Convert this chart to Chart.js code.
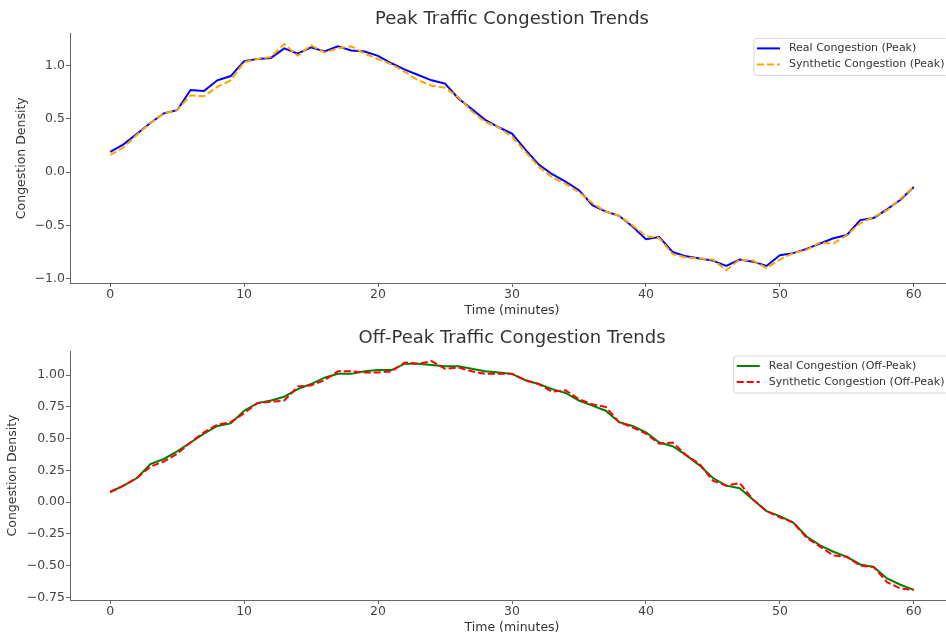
<html>

<head>
  <meta charset="utf-8">
  <style>
    html,
    body {
      margin: 0;
      padding: 0;
      background: #fff;
      overflow: hidden;
    }

    canvas {
      position: absolute;
      left: 0;
    }

    #peak {
      top: 0;
    }

    #offpeak {
      top: 320px;
    }
  </style>
</head>

<body>
  <canvas id="peak" width="960" height="320"></canvas>
  <canvas id="offpeak" width="960" height="316"></canvas>
  <script src="https://cdn.jsdelivr.net/npm/chart.js@4.4.0/dist/chart.umd.min.js"></script>
  <script type="text/javascript">
    // minutes 0..60
    const minutes = Array.from({ length: 61 }, (_, i) => i);
    const timeTicks = [0, 10, 20, 30, 40, 50, 60];

    const realPeak = [0.19, 0.26, 0.36, 0.46, 0.55, 0.58, 0.77, 0.76, 0.86, 0.90,
      1.04, 1.06, 1.07, 1.16, 1.11, 1.17, 1.13, 1.18, 1.14, 1.13,
      1.09, 1.02, 0.96, 0.91, 0.86, 0.83, 0.69, 0.59, 0.49, 0.42,
      0.36, 0.21, 0.07, -0.02, -0.09, -0.17, -0.31, -0.37, -0.41, -0.51,
      -0.63, -0.61, -0.75, -0.79, -0.81, -0.83, -0.88, -0.82, -0.84, -0.88,
      -0.78, -0.76, -0.72, -0.67, -0.62, -0.59, -0.45, -0.43, -0.35, -0.26,
      -0.14];
    const synthPeak = [0.16, 0.23, 0.35, 0.46, 0.55, 0.58, 0.72, 0.71, 0.80, 0.86,
      1.03, 1.06, 1.08, 1.20, 1.09, 1.19, 1.12, 1.16, 1.18, 1.11,
      1.06, 1.01, 0.94, 0.86, 0.81, 0.79, 0.70, 0.57, 0.47, 0.42,
      0.33, 0.19, 0.05, -0.05, -0.11, -0.19, -0.29, -0.37, -0.41, -0.50,
      -0.60, -0.62, -0.77, -0.80, -0.81, -0.82, -0.92, -0.82, -0.83, -0.90,
      -0.82, -0.76, -0.73, -0.66, -0.67, -0.59, -0.48, -0.42, -0.36, -0.25,
      -0.14];
    const realOff = [0.08, 0.13, 0.19, 0.30, 0.34, 0.40, 0.47, 0.54, 0.60, 0.62,
      0.72, 0.78, 0.80, 0.83, 0.89, 0.93, 0.98, 1.01, 1.01, 1.03,
      1.04, 1.04, 1.09, 1.09, 1.08, 1.07, 1.07, 1.05, 1.03, 1.02,
      1.01, 0.96, 0.93, 0.89, 0.86, 0.80, 0.76, 0.72, 0.63, 0.60,
      0.55, 0.47, 0.44, 0.37, 0.29, 0.19, 0.13, 0.11, 0.02, -0.07,
      -0.11, -0.16, -0.27, -0.34, -0.39, -0.43, -0.49, -0.51, -0.60, -0.65,
      -0.69];
    const synthOff = [0.08, 0.13, 0.19, 0.28, 0.32, 0.38, 0.47, 0.55, 0.61, 0.63,
      0.70, 0.78, 0.79, 0.80, 0.91, 0.92, 0.96, 1.03, 1.03, 1.02,
      1.02, 1.03, 1.10, 1.09, 1.11, 1.05, 1.06, 1.03, 1.01, 1.01,
      1.01, 0.96, 0.93, 0.87, 0.88, 0.81, 0.77, 0.75, 0.63, 0.59,
      0.54, 0.46, 0.47, 0.37, 0.30, 0.17, 0.13, 0.15, 0.02, -0.07,
      -0.12, -0.16, -0.28, -0.35, -0.42, -0.43, -0.50, -0.51, -0.63, -0.68,
      -0.69];

    const peakYTicks = [-1.0, -0.5, 0.0, 0.5, 1.0];
    const peakYLabels = ['\u22121.0', '\u22120.5', '0.0', '0.5', '1.0'];
    const offYTicks = [-0.75, -0.5, -0.25, 0.0, 0.25, 0.5, 0.75, 1.0];
    const offYLabels = ['\u22120.75', '\u22120.50', '\u22120.25', '0.00', '0.25', '0.50', '0.75', '1.00'];

    Chart.defaults.font.family = "'DejaVu Sans', sans-serif";
    Chart.defaults.color = '#444';

    // matplotlib-style boxed legend in the upper right of the plot area
    const boxLegend = {
      id: 'boxLegend',
      afterDraw(chart) {
        const ctx = chart.ctx;
        const area = chart.chartArea;
        const items = chart.data.datasets;
        ctx.save();
        ctx.font = "11px 'DejaVu Sans'";
        const textW = Math.max(...items.map(d => ctx.measureText(d.label).width));
        const w = 3 + 23 + 9 + textW + 4;
        const h = 10 + 16 * (items.length - 1) + 11;
        const x = area.right - 5.5 - w;
        const y = area.top + 5;
        ctx.beginPath();
        ctx.roundRect(x, y, w, h, 3);
        ctx.fillStyle = 'rgba(255,255,255,0.8)';
        ctx.fill();
        ctx.strokeStyle = '#d6d6d6';
        ctx.lineWidth = 1;
        ctx.stroke();
        items.forEach((d, i) => {
          const cy = y + 10 + i * 16;
          ctx.beginPath();
          ctx.setLineDash(d.borderDash || []);
          ctx.strokeStyle = d.borderColor;
          ctx.lineWidth = d.borderWidth;
          ctx.moveTo(x + 3, cy);
          ctx.lineTo(x + 26, cy);
          ctx.stroke();
          ctx.setLineDash([]);
          ctx.fillStyle = '#333';
          ctx.textBaseline = 'middle';
          ctx.fillText(d.label, x + 35, cy);
        });
        ctx.restore();
      }
    };

    function makeChart(id, title, titlePad, datasets, yMin, yMax, yTicks, yLabels, yTitlePad, xHeight, xTitlePad) {
      return new Chart(document.getElementById(id), {
        type: 'line',
        data: { datasets: datasets },
        plugins: [boxLegend],
        options: {
          responsive: false,
          animation: false,
          layout: { padding: { left: 0, right: 6, top: 0, bottom: 0 } },
          elements: { point: { radius: 0 }, line: { tension: 0 } },
          plugins: {
            legend: { display: false },
            tooltip: { enabled: false },
            title: {
              display: true,
              fullSize: false,
              text: title,
              color: '#333',
              font: { size: 18, weight: 'normal' },
              padding: titlePad,
            },
          },
          scales: {
            x: {
              type: 'linear',
              min: -3,
              max: 63,
              afterBuildTicks: s => { s.ticks = timeTicks.map(v => ({ value: v })); },
              afterFit: s => { s.height = xHeight; },
              ticks: { font: { size: 12.5 }, padding: 0, maxRotation: 0, callback: v => String(v) },
              grid: { drawOnChartArea: false, tickLength: 4, tickColor: '#666' },
              border: { color: '#666' },
              title: { display: true, text: 'Time (minutes)', font: { size: 12.5 }, color: '#333', padding: { top: 0, bottom: xTitlePad } },
            },
            y: {
              min: yMin,
              max: yMax,
              afterBuildTicks: s => { s.ticks = yTicks.map(v => ({ value: v })); },
              afterFit: s => { s.width = 70; },
              ticks: { font: { size: 12.5 }, padding: 1, callback: (v, i) => yLabels[i] },
              grid: { drawOnChartArea: false, tickLength: 4, tickColor: '#666' },
              border: { color: '#666' },
              title: { display: true, text: 'Congestion Density', font: { size: 12.5 }, color: '#333', padding: { top: yTitlePad, bottom: 0 } },
            },
          },
        },
      });
    }

    const pts = arr => arr.map((v, i) => ({ x: minutes[i], y: v }));

    makeChart('peak', 'Peak Traffic Congestion Trends', { top: 8.4, bottom: 3.4 }, [
      { label: 'Real Congestion (Peak)', data: pts(realPeak), borderColor: '#0000ff', borderWidth: 2, order: 1 },
      { label: 'Synthetic Congestion (Peak)', data: pts(synthPeak), borderColor: '#ffa500', borderWidth: 2, borderDash: [7, 3], order: 0 },
    ], -1.04, 1.30, peakYTicks, peakYLabels, 14, 37, 2);

    makeChart('offpeak', 'Off-Peak Traffic Congestion Trends', { top: 7.4, bottom: 2 }, [
      { label: 'Real Congestion (Off-Peak)', data: pts(realOff), borderColor: '#008000', borderWidth: 2, order: 1 },
      { label: 'Synthetic Congestion (Off-Peak)', data: pts(synthOff), borderColor: '#ff0000', borderWidth: 2, borderDash: [7, 3], order: 0 },
    ], -0.77, 1.19, offYTicks, offYLabels, 5, 36, 1);
  </script>
</body>

</html>
